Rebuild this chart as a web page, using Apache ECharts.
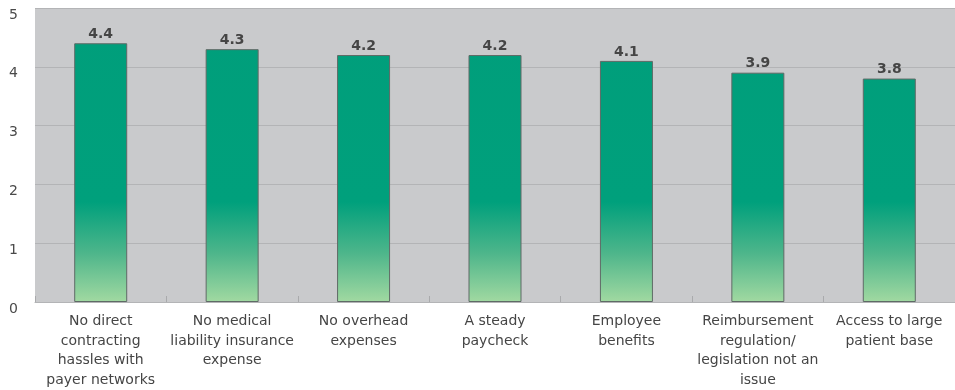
<!DOCTYPE html>
<html>
<head>
<meta charset="utf-8">
<script src="https://cdn.jsdelivr.net/npm/echarts@6/dist/echarts.min.js"></script>
<style>html,body{margin:0;padding:0;background:#fff;}#c{width:955px;height:390px;}</style>
</head>
<body>
<div id="c"></div>
<script>
const categories = [
  "No direct\ncontracting\nhassles with\npayer networks",
  "No medical\nliability insurance\nexpense",
  "No overhead\nexpenses",
  "A steady\npaycheck",
  "Employee\nbenefits",
  "Reimbursement\nregulation/\nlegislation not an\nissue",
  "Access to large\npatient base"
];
const values = [4.4, 4.3, 4.2, 4.2, 4.1, 3.9, 3.8];
const yTicks = [0, 1, 2, 3, 4, 5];

const chart = echarts.init(document.getElementById('c'), null, {renderer: 'canvas'});
const font = 'DejaVu Sans, sans-serif';
chart.setOption({
  animation: false,
  grid: {
    left: 35, top: 8, width: 926, height: 298,
    show: true, backgroundColor: '#c9cacc', borderWidth: 0
  },
  xAxis: {
    type: 'category',
    data: categories,
    axisLine: {show: true, lineStyle: {color: '#b3b4b6', width: 1}},
    axisTick: {show: true, inside: true, length: 6, alignWithLabel: false, lineStyle: {color: '#a9aaac'}},
    axisLabel: {
      interval: 0, margin: 10, color: '#454545',
      fontFamily: font, fontSize: 14, lineHeight: 19.5
    }
  },
  yAxis: {
    type: 'value', min: yTicks[0], max: yTicks[yTicks.length - 1], interval: 1,
    axisLine: {show: false},
    axisTick: {show: false},
    axisLabel: {
      margin: 17, color: '#4a4a4a', fontFamily: font, fontSize: 14,
      verticalAlign: 'top'
    },
    splitLine: {show: true, lineStyle: {color: '#b3b4b6', width: 1}}
  },
  series: [{
    type: 'bar',
    data: values,
    barWidth: 53,
    itemStyle: {
      borderColor: '#5f6a66', borderWidth: 1,
      color: {
        type: 'linear', x: 0, y: 0, x2: 0, y2: 306, global: true,
        colorStops: [
          {offset: 0, color: '#009e7b'},
          {offset: 0.66, color: '#00a07c'},
          {offset: 0.83, color: '#4fb68b'},
          {offset: 1, color: '#a8dca3'}
        ]
      }
    },
    label: {
      show: true, position: 'top', distance: 2,
      color: '#454545', fontFamily: font, fontSize: 14, fontWeight: 'bold',
      formatter: p => p.value.toFixed(1)
    }
  }]
});
</script>
</body>
</html>
